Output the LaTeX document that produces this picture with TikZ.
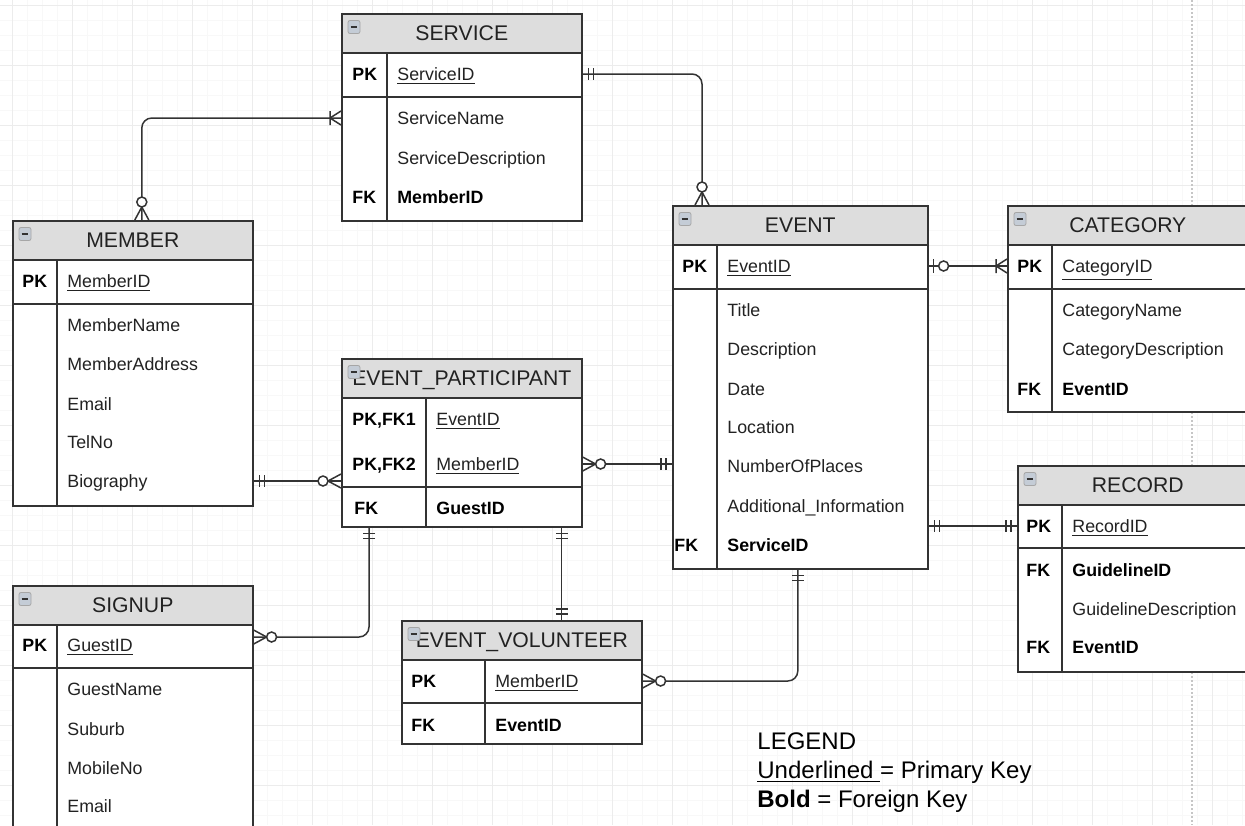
\documentclass[tikz,border=0pt]{standalone}
\usepackage{fontspec}
\setmainfont{Liberation Sans}
\usetikzlibrary{decorations.markings}
\definecolor{erline}{RGB}{51,51,51}
\definecolor{erhead}{RGB}{221,221,221}
\definecolor{ertext}{RGB}{34,34,34}
\definecolor{gridminor}{RGB}{248,248,248}
\definecolor{gridmajor}{RGB}{236,236,236}
\definecolor{iconfill}{RGB}{196,204,214}

\tikzset{
  entity/.style={draw=erline, line width=0.8pt, fill=white, anchor=north west, inner sep=0pt},
  entityhead/.style={draw=erline, line width=0.8pt, fill=erhead, anchor=north, minimum width=120pt,
    minimum height=19.5pt, inner sep=0pt, text=ertext, text height=7.5pt, text depth=0pt,
    font=\fontsize{10.6pt}{12pt}\selectfont},
  minibox/.style={draw=gray!70, fill=iconfill, rounded corners=1pt, minimum width=6pt,
    minimum height=6.5pt, inner sep=0pt,
    path picture={\draw[erline, line width=0.6pt] ([xshift=-1.7pt]path picture bounding box.center)
      -- ([xshift=1.7pt]path picture bounding box.center);}},
  divider/.style={draw=erline, line width=0.8pt},
  attr/.style={anchor=west, inner sep=0pt, text=ertext, text height=6.4pt, text depth=0pt,
    font=\fontsize{8.9pt}{10pt}\selectfont},
  keyattr/.style={attr, text=black, font=\fontsize{8.9pt}{10pt}\selectfont\bfseries},
  legendtext/.style={anchor=west, inner sep=0pt, text height=8.6pt, text depth=0pt,
    font=\fontsize{12pt}{14pt}\selectfont},
  conn/.style={draw=erline, line width=0.75pt, rounded corners=5pt},
  endmark/.style={draw=erline, line width=0.75pt},
  % crow's foot ends
  bars start/.style={postaction={decorate, decoration={markings, mark=at position 0 with
    {\draw[endmark] (6,-6) -- (6,6) (11,-6) -- (11,6);}}}},
  bars end/.style={postaction={decorate, decoration={markings, mark=at position 1 with
    {\draw[endmark] (-6,-6) -- (-6,6) (-11,-6) -- (-11,6);}}}},
  zmany end/.style={postaction={decorate, decoration={markings, mark=at position 1 with
    {\draw[endmark] (-13,0) -- (0,-7) (-13,0) -- (0,7); \draw[endmark, fill=white] (-18,0) circle (2.5pt);}}}},
  omany start/.style={postaction={decorate, decoration={markings, mark=at position 0 with
    {\draw[endmark] (11,0) -- (0,-7) (11,0) -- (0,7) (11,-7) -- (11,7);}}}},
  omany end/.style={postaction={decorate, decoration={markings, mark=at position 1 with
    {\draw[endmark] (-11,0) -- (0,-7) (-11,0) -- (0,7) (-11,-7) -- (-11,7);}}}},
  zone start/.style={postaction={decorate, decoration={markings, mark=at position 0 with
    {\draw[endmark] (5,-7) -- (5,7); \draw[endmark, fill=white] (15,0) circle (2.5pt);}}}}
}

\begin{document}
\begin{tikzpicture}[x=0.5pt, y=-0.5pt]
\useasboundingbox (0,0) rectangle (1245,825);
\clip (0,0) rectangle (1245,825);
\fill[white] (0,0) rectangle (1245,825);
% grid
\foreach \gx in {12,27,...,1257} \draw[gridminor, line width=0.4pt] (\gx,0) -- (\gx,825);
\foreach \gy in {5,20,...,830} \draw[gridminor, line width=0.4pt] (0,\gy) -- (1245,\gy);
\foreach \gx in {12,72,...,1257} \draw[gridmajor, line width=0.5pt] (\gx,0) -- (\gx,825);
\foreach \gy in {5,65,...,830} \draw[gridmajor, line width=0.5pt] (0,\gy) -- (1245,\gy);
\draw[gray!45, line width=0.6pt, dash pattern=on 1pt off 1pt] (1192,0) -- (1192,825);

% SERVICE
\node[entity, minimum width=120pt, minimum height=103.5pt] (service) at (341,13) {};
\node[entityhead] (servicehd) at (service.north) {SERVICE};
\node[minibox] (serviceic) at ([xshift=6.5pt,yshift=-7pt]service.north west) {};
\draw[divider] (341,97) -- (581,97) (387,52) -- (387,220);
\node[keyattr] (svcpk) at (352,74) {PK};
\node[attr] (svcid) at (397,74) {\underline{ServiceID}};
\node[attr] (svcname) at (397,118) {ServiceName};
\node[attr] (svcdesc) at (397,158) {ServiceDescription};
\node[keyattr] (svcfk) at (352,197) {FK};
\node[keyattr] (svcmem) at (397,197) {MemberID};

% MEMBER
\node[entity, minimum width=120pt, minimum height=142.5pt] (member) at (12,220) {};
\node[entityhead] (memberhd) at (member.north) {MEMBER};
\node[minibox] (memberic) at ([xshift=6.5pt,yshift=-7pt]member.north west) {};
\draw[divider] (12,304) -- (252,304) (57,260) -- (57,505);
\node[keyattr] (mempk) at (22,281) {PK};
\node[attr] (memid) at (67,281) {\underline{MemberID}};
\node[attr] (memname) at (67,325) {MemberName};
\node[attr] (memaddr) at (67,364) {MemberAddress};
\node[attr] (mememail) at (67,404) {Email};
\node[attr] (memtel) at (67,442) {TelNo};
\node[attr] (membio) at (67,481) {Biography};

% EVENT_PARTICIPANT
\node[entity, minimum width=120pt, minimum height=84pt] (ep) at (341,358) {};
\node[entityhead] (ephd) at (ep.north) {EVENT\_PARTICIPANT};
\node[minibox] (epic) at ([xshift=6.5pt,yshift=-7pt]ep.north west) {};
\draw[divider] (341,487) -- (581,487) (426,397) -- (426,526);
\node[keyattr] (eppk1) at (352,419) {PK,FK1};
\node[attr] (epevt) at (436,419) {\underline{EventID}};
\node[keyattr] (eppk2) at (352,464) {PK,FK2};
\node[attr] (epmem) at (436,464) {\underline{MemberID}};
\node[keyattr] (epfk) at (354,508) {FK};
\node[keyattr] (epguest) at (436,508) {GuestID};

% EVENT
\node[entity, minimum width=127.5pt, minimum height=181.5pt] (event) at (672,205) {};
\node[entityhead, minimum width=127.5pt] (eventhd) at (event.north) {EVENT};
\node[minibox] (eventic) at ([xshift=6.5pt,yshift=-7pt]event.north west) {};
\draw[divider] (672,289) -- (927,289) (717,244) -- (717,568);
\node[keyattr] (evtpk) at (682,266) {PK};
\node[attr] (evtid) at (727,266) {\underline{EventID}};
\node[attr] (evttitle) at (727,310) {Title};
\node[attr] (evtdesc) at (727,349) {Description};
\node[attr] (evtdate) at (727,389) {Date};
\node[attr] (evtloc) at (727,427) {Location};
\node[attr] (evtplaces) at (727,466) {NumberOfPlaces};
\node[attr] (evtinfo) at (727,506) {Additional\_Information};
\node[keyattr] (evtfk) at (674,545) {FK};
\node[keyattr] (evtsvc) at (727,545) {ServiceID};

% CATEGORY
\node[entity, minimum width=120pt, minimum height=103pt] (category) at (1007,205) {};
\node[entityhead] (categoryhd) at (category.north) {CATEGORY};
\node[minibox] (categoryic) at ([xshift=6.5pt,yshift=-7pt]category.north west) {};
\draw[divider] (1007,289) -- (1247,289) (1052,244) -- (1052,411);
\node[keyattr] (catpk) at (1017,266) {PK};
\node[attr] (catid) at (1062,266) {\underline{CategoryID}};
\node[attr] (catname) at (1062,310) {CategoryName};
\node[attr] (catdesc) at (1062,349) {CategoryDescription};
\node[keyattr] (catfk) at (1017,389) {FK};
\node[keyattr] (catevt) at (1062,389) {EventID};

% RECORD
\node[entity, minimum width=120pt, minimum height=103pt] (record) at (1017,465) {};
\node[entityhead] (recordhd) at (record.north) {RECORD};
\node[minibox] (recordic) at ([xshift=6.5pt,yshift=-7pt]record.north west) {};
\draw[divider] (1017,548) -- (1257,548) (1062,504) -- (1062,671);
\node[keyattr] (recpk) at (1026,526) {PK};
\node[attr] (recid) at (1072,526) {\underline{RecordID}};
\node[keyattr] (recfk1) at (1026,570) {FK};
\node[keyattr] (recguide) at (1072,570) {GuidelineID};
\node[attr] (recgdesc) at (1072,609) {GuidelineDescription};
\node[keyattr] (recfk2) at (1026,647) {FK};
\node[keyattr] (recevt) at (1072,647) {EventID};

% SIGNUP
\node[entity, minimum width=120pt, minimum height=137.5pt] (signup) at (12,585) {};
\node[entityhead] (signuphd) at (signup.north) {SIGNUP};
\node[minibox] (signupic) at ([xshift=6.5pt,yshift=-7pt]signup.north west) {};
\draw[divider] (12,668) -- (252,668) (57,624) -- (57,860);
\node[keyattr] (sgpk) at (22,645) {PK};
\node[attr] (sgid) at (67,645) {\underline{GuestID}};
\node[attr] (sgname) at (67,689) {GuestName};
\node[attr] (sgsuburb) at (67,729) {Suburb};
\node[attr] (sgmobile) at (67,768) {MobileNo};
\node[attr] (sgemail) at (67,806) {Email};

% EVENT_VOLUNTEER
\node[entity, minimum width=120pt, minimum height=61.5pt] (ev) at (401,620) {};
\node[entityhead] (evhd) at (ev.north) {EVENT\_VOLUNTEER};
\node[minibox] (evic) at ([xshift=6.5pt,yshift=-7pt]ev.north west) {};
\draw[divider] (401,703) -- (641,703) (485,659) -- (485,743);
\node[keyattr] (volpk) at (411,681) {PK};
\node[attr] (volmem) at (495,681) {\underline{MemberID}};
\node[keyattr] (volfk) at (411,725) {FK};
\node[keyattr] (volevt) at (495,725) {EventID};

% relationships
\draw[conn, bars start, zmany end] (service.east |- svcid) -| ([xshift=15pt]event.north west);
\draw[conn, omany start, zmany end] (service.west |- svcname) -| ([xshift=4.5pt]member.north);
\draw[conn, bars start, zmany end] (member.east |- membio) -- (ep.west |- membio);
\draw[conn, bars start, zmany end] (event.west |- epmem) -- (ep.east |- epmem);
\draw[conn, bars start, zmany end] ([xshift=14pt]ep.south west) |- ([yshift=-26pt]signup.north east);
\draw[conn, bars start, bars end] ([xshift=-10.5pt]ep.south east) -- ([xshift=-10.5pt]ep.south east |- ev.north);
\draw[conn, bars start, zmany end] ([xshift=-1.25pt]event.south) |- (ev.east |- volmem);
\draw[conn, zone start, omany end] (event.east |- evtid) -- (category.west |- evtid);
\draw[conn, bars start, bars end] (event.east |- recid) -- (record.west |- recid);

% legend
\node[legendtext] (legtitle) at (757,741) {LEGEND};
\node[legendtext] (legpk) at (757,770) {\underline{Underlined\ }= Primary Key};
\node[legendtext] (legfk) at (757,799) {\textbf{Bold} = Foreign Key};
\end{tikzpicture}
\end{document}
